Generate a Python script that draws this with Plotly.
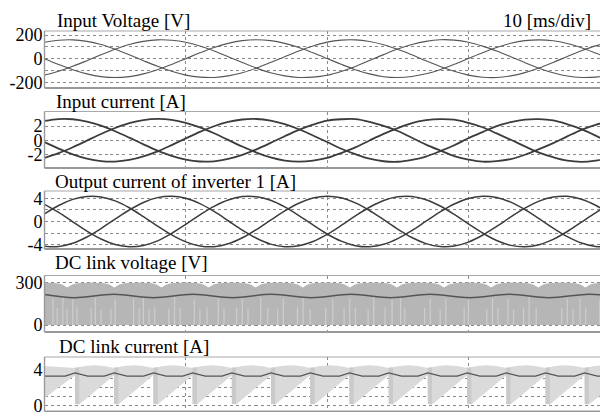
import plotly.graph_objects as go

# The page body keeps an 8 px margin, so the figure is drawn 8 px smaller and
# every reference pixel position is shifted by OFF.
PAGE_W, PAGE_H, OFF = 608, 412, 8
W, H = PAGE_W - OFF, PAGE_H - OFF

# ---------------- data ----------------
t_ms = list(range(41))  # sample instants, ms

vin_a = [139, 156, 159, 146, 119, 80, 33, -17, -65, -107, -139, -156, -159, -146, -119, -80, -33, 17, 65, 107,
         140, 157, 159, 145, 118, 79, 32, -18, -66, -107, -139, -157, -160, -146, -118, -79, -32, 18, 66, 108, 139]
vin_b = [0, -49, -94, -129, -152, -160, -152, -129, -94, -49, 0, 49, 94, 129, 152, 160, 152, 129, 94, 49,
         1, -48, -93, -129, -153, -160, -151, -128, -93, -48, 1, 50, 95, 130, 152, 159, 151, 128, 93, 48, 0]
vin_c = [-139, -107, -65, -17, 33, 80, 119, 146, 159, 156, 139, 107, 65, 17, -33, -80, -119, -146, -159, -156,
         -140, -108, -66, -16, 34, 81, 119, 146, 160, 157, 139, 106, 64, 16, -34, -81, -120, -147, -159, -156, -139]

iin_a = [2.72, 2.98, 2.95, 2.62, 2.05, 1.27, 0.37, -0.57, -1.45, -2.19, -2.72, -2.98, -2.95, -2.62, -2.05, -1.27, -0.37, 0.57, 1.45, 2.19,
         2.75, 2.95, 2.97, 2.60, 2.02, 1.30, 0.35, -0.60, -1.43, -2.22, -2.70, -3.00, -2.93, -2.64, -2.03, -1.25, -0.40, 0.55, 1.47, 2.17, 2.70]
iin_b = [-0.26, -1.17, -1.97, -2.57, -2.92, -2.99, -2.76, -2.26, -1.55, -0.67, 0.26, 1.17, 1.97, 2.57, 2.92, 2.99, 2.76, 2.26, 1.55, 0.67,
         -0.24, -1.19, -1.95, -2.59, -2.94, -3.01, -2.74, -2.28, -1.53, -0.69, 0.28, 1.15, 1.99, 2.55, 2.90, 2.97, 2.78, 2.24, 1.57, 0.65, -0.26]
iin_c = [-2.46, -1.81, -0.98, -0.05, 0.88, 1.72, 2.40, 2.84, 3.00, 2.87, 2.46, 1.81, 0.98, 0.05, -0.88, -1.72, -2.40, -2.84, -3.00, -2.87,
         -2.48, -1.79, -1.00, -0.03, 0.90, 1.70, 2.42, 2.82, 2.98, 2.89, 2.44, 1.83, 0.96, 0.07, -0.86, -1.74, -2.38, -2.86, -3.02, -2.85, -2.46]

iout_u = [1.32, 2.78, 3.84, 4.36, 4.27, 3.58, 2.39, 0.86, -0.79, -2.32, -3.54, -4.25, -4.37, -3.87, -2.83, -1.40, 0.24, 1.84, 3.18, 4.08,
          4.40, 4.11, 3.23, 1.91, 0.31, -1.32, -2.78, -3.84, -4.36, -4.27, -3.58, -2.39, -0.86, 0.79, 2.32, 3.54, 4.25, 4.37, 3.87, 2.83, 1.40]
iout_v = [2.97, 1.57, -0.05, -1.67, -3.05, -4.00, -4.39, -4.17, -3.36, -2.07, -0.50, 1.15, 2.63, 3.74, 4.33, 4.31, 3.69, 2.54, 1.04, -0.60,
          -2.17, -3.42, -4.20, -4.39, -3.96, -2.97, -1.57, 0.05, 1.67, 3.05, 4.00, 4.39, 4.17, 3.36, 2.07, 0.50, -1.15, -2.63, -3.74, -4.33, -4.31]
iout_w = [-4.29, -4.35, -3.79, -2.69, -1.22, 0.42, 2.00, 3.31, 4.15, 4.39, 4.04, 3.10, 1.74, 0.13, -1.50, -2.91, -3.93, -4.38, -4.22, -3.48,
          -2.23, -0.69, 0.97, 2.48, 3.65, 4.29, 4.35, 3.79, 2.69, 1.22, -0.42, -2.00, -3.31, -4.15, -4.39, -4.04, -3.10, -1.74, -0.13, 1.50, 2.91]

# DC link voltage: notches of the switched envelope, notch profile, mean trace, light stripes
dcv_notch_t = [1.61, 4.94, 8.28, 11.61, 14.94, 18.28, 21.61, 24.94, 28.28, 31.61, 34.94, 38.28]
dcv_notch_dt = [-0.7, -0.35, 0.0, 0.35, 0.7, 1.67]
dcv_notch_v = [294, 284, 263, 284, 294, 298]
dcv_avg_t = [0, 2.1, 4.9, 7.7, 10.5, 13.3, 16.1, 18.9, 21.7, 24.5, 27.3, 30.1, 32.9, 35.7, 38.5, 39.9]
dcv_avg_v = [214, 192, 216, 192, 216, 192, 216, 192, 216, 192, 216, 192, 216, 192, 216, 208]
dcv_stripe_t = [0.6, 0.9, 1.3, 1.6, 2.0, 2.3, 3.3, 3.6, 4.0, 4.7, 5.0, 6.3, 6.7, 7.0, 7.4, 7.8, 8.8, 9.2, 9.6,
                10.6, 11.0, 11.5, 12.3, 12.7, 13.6, 14.0, 14.4, 15.3, 15.8, 16.5, 16.9, 17.9, 18.3, 18.8, 19.9,
                20.4, 21.2, 21.6, 22.0, 22.9, 23.3, 24.1, 24.6, 25.2, 25.5, 26.9, 27.3, 28.0, 28.4, 29.7, 30.0,
                31.3, 31.7, 32.1, 32.8, 33.2, 33.9, 34.3, 34.8, 36.6, 37.0, 37.4, 37.9, 38.3, 39.3]
dcv_stripe_v = [190, 120, 195, 110, 185, 125, 120, 190, 105, 115, 180, 185, 120, 190, 110, 125, 115, 195, 120,
                180, 110, 125, 190, 115, 120, 185, 110, 195, 120, 115, 185, 125, 190, 110, 120,
                185, 115, 190, 120, 110, 195, 125, 185, 190, 115, 120, 185, 110, 190, 125, 180,
                115, 190, 120, 185, 110, 125, 195, 115, 120, 185, 110, 190, 125, 180]

# DC link current: drop instants of the sawtooth, envelopes and mean trace
dci_drop_t = [2.16, 4.93, 7.71, 10.48, 13.26, 16.03, 18.81, 21.58, 24.36, 27.13, 29.91, 32.68, 35.46, 38.23]
dci_top_dt = [0.0, 0.7, 1.39, 2.08]
dci_top_v = [4.15, 4.38, 4.45, 4.38]
dci_low_before = 3.3
dci_low_after = 0.1
dci_low_start = 0.8
dci_avg_base = 3.25
dci_avg_peak = 3.6

# ---------------- layout geometry (reference pixels) ----------------
panels = [  # (top px, bottom px, y range, grid values, tick labels)
    (31, 88, [-248.2, 233.8], [-200, -100, 0, 100, 200], ["-200", "", "0", "", "200"]),
    (111.5, 168, [-3.89, 4.04], [-2, 0, 2], ["-2", "0", "2"]),
    (191, 249, [-4.78, 5.30], [-4, -2, 0, 2, 4], ["-4", "", "0", "", "4"]),
    (275.5, 332, [-49.2, 347.8], [0, 100, 200, 300], ["0", "", "", "300"]),
    (357, 411.5, [-0.69, 5.37], [0, 1, 2, 3, 4], ["0", "", "", "", "4"]),
]
titles = [("Input Voltage [V]", 55, 20.5), ("Input current [A]", 54, 101.5),
          ("Output current of inverter 1 [A]", 53, 181.5), ("DC link voltage [V]", 53, 262),
          ("DC link current [A]", 57, 346)]
X_LEFT = 44.5
PX_PER_MS = 14.13
X_END = (PAGE_W - X_LEFT) / PX_PER_MS


def fx(px):
    return (px - OFF) / W


def fy(py):
    return 1 - (py - OFF) / H


FONT = "Liberation Serif, Times New Roman, serif"
GRID = "#8a8a8a"
fig = go.Figure()


def ax(k):
    return ("x" if k == 1 else f"x{k}"), ("y" if k == 1 else f"y{k}")


def add(k, **kw):
    xa, ya = ax(k)
    fig.add_trace(go.Scatter(xaxis=xa, yaxis=ya, showlegend=False, hoverinfo="skip", **kw))


# panel 1
for s in (vin_a, vin_b, vin_c):
    add(1, x=t_ms, y=s, mode="lines", line=dict(color="#555555", width=1.1, shape="spline"))
# panel 2
for s in (iin_a, iin_b, iin_c):
    add(2, x=t_ms, y=s, mode="lines", line=dict(color="#3c3c3c", width=1.8, shape="spline"))
# panel 3
for s in (iout_u, iout_v, iout_w):
    add(3, x=t_ms, y=s, mode="lines", line=dict(color="#3c3c3c", width=1.5, shape="spline"))

# panel 4: switched DC link voltage band
env_x, env_y = [0.0], [298]
for tn in dcv_notch_t:
    for dt, v in zip(dcv_notch_dt, dcv_notch_v):
        env_x.append(tn + dt)
        env_y.append(v)
poly_x = env_x + [env_x[-1], 0.0]
poly_y = env_y + [0, 0]
add(4, x=poly_x, y=poly_y, mode="lines", fill="toself", fillcolor="#b6b6b6", line=dict(width=0))
sx, sy = [], []
for ts, vs in zip(dcv_stripe_t, dcv_stripe_v):
    sx += [ts, ts, None]
    sy += [2, vs, None]
add(4, x=sx, y=sy, mode="lines", line=dict(color="#cdcdcd", width=1.2))
add(4, x=dcv_avg_t, y=dcv_avg_v, mode="lines", line=dict(color="#555555", width=1.5, shape="spline"))

# panel 5: DC link current spikes
top_x, top_y = [0.0], [4.38]
for td in dci_drop_t:
    for dt, v in zip(dci_top_dt, dci_top_v):
        top_x.append(td + dt)
        top_y.append(v)
low_x, low_y = [0.0], [dci_low_start]
for td in dci_drop_t:
    low_x += [td - 0.02, td, td + 0.3]
    low_y += [dci_low_before, dci_low_after + 0.05, dci_low_after]
low_x.append(39.95)
low_y.append(dci_low_after + (dci_low_before - dci_low_after) * 0.55)
px5 = top_x + low_x[::-1]
py5 = top_y + low_y[::-1]
add(5, x=px5, y=py5, mode="lines", fill="toself", fillcolor="#dadada", line=dict(width=0))
dx, dy = [], []
for td in dci_drop_t:
    dx += [td, td + 0.3, td + 0.3, td, td, None]
    dy += [0.15, 0.15, 4.2, 4.2, 0.15, None]
add(5, x=dx, y=dy, mode="lines", fill="toself", fillcolor="#cacaca", line=dict(width=0))
ax5, ay5 = [0.0], [dci_avg_base]
for td in dci_drop_t:
    ax5 += [td - 0.7, td, td + 0.9]
    ay5 += [dci_avg_base, dci_avg_peak, dci_avg_base]
ax5.append(39.95)
ay5.append(dci_avg_base)
add(5, x=ax5, y=ay5, mode="lines", line=dict(color="#555555", width=1.2))

layout = dict(width=W, height=H, margin=dict(l=0, r=0, t=0, b=0, pad=0, autoexpand=False),
              paper_bgcolor="white", plot_bgcolor="white", showlegend=False)
shapes, annos = [], []
for k, (top, bot, rng, gv, gt) in enumerate(panels, start=1):
    xn = "xaxis" if k == 1 else f"xaxis{k}"
    yn = "yaxis" if k == 1 else f"yaxis{k}"
    xa, ya = ax(k)
    layout[xn] = dict(domain=[fx(X_LEFT), 1], range=[0, X_END], anchor=ya, tickvals=[10, 20, 30],
                      showticklabels=False, showgrid=True, gridcolor=GRID, griddash="dot", gridwidth=1,
                      zeroline=False, showline=False, ticks="", fixedrange=True, automargin=False)
    layout[yn] = dict(domain=[max(0, fy(bot)), fy(top)], range=rng, anchor=xa, tickvals=gv, ticktext=gt,
                      showgrid=True, gridcolor=GRID, griddash="dot", gridwidth=1, zeroline=False,
                      showline=False, ticks="", ticklabelstandoff=1, automargin=False,
                      ticklabeloverflow="allow",
                      tickfont=dict(family=FONT, size=18, color="black"), fixedrange=True)
    xr, yr = f"{xa} domain", f"{ya} domain"
    shapes.append(dict(type="line", xref=xr, yref=yr, x0=0, x1=1, y0=1, y1=1, line=dict(color="#a8a8a8", width=1.2)))
    shapes.append(dict(type="line", xref=xr, yref=yr, x0=0, x1=1, y0=0, y1=0, line=dict(color="#999999", width=2)))
    shapes.append(dict(type="line", xref=xr, yref=yr, x0=0, x1=0, y0=0, y1=1, line=dict(color="#9a9a9a", width=1.4)))

for text, xpx, ypx in titles:
    annos.append(dict(text=text, xref="paper", yref="paper", x=fx(xpx), y=fy(ypx), xanchor="left",
                      yanchor="middle", showarrow=False, font=dict(family=FONT, size=19, color="black")))
annos.append(dict(text="10 [ms/div]", xref="paper", yref="paper", x=fx(593), y=fy(20.5), xanchor="right",
                  yanchor="middle", showarrow=False, font=dict(family=FONT, size=19, color="black")))
layout["shapes"] = shapes
layout["annotations"] = annos
fig.update_layout(**layout)
fig.write_html("out.html")
